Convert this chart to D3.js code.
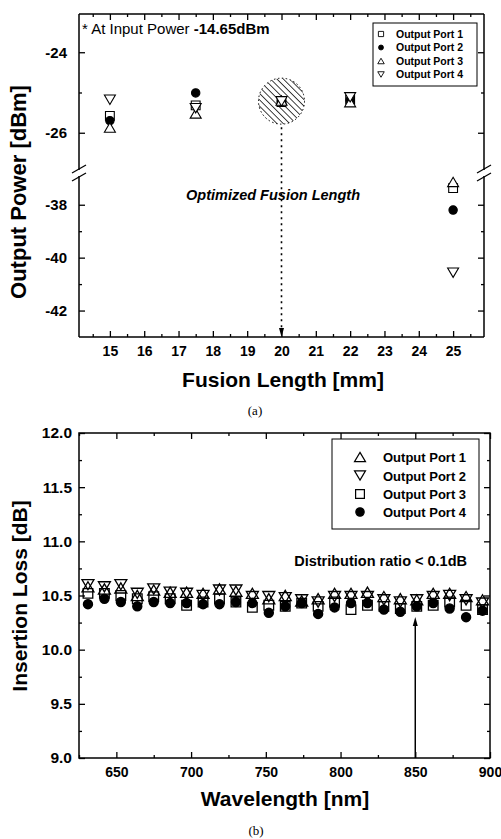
<!DOCTYPE html>
<html>
<head>
<meta charset="utf-8">
<script src="https://cdn.jsdelivr.net/npm/d3@7"></script>
<style>
  body { margin: 0; background: #fff; }
  text { font-family: "Liberation Sans", Arial, Helvetica, sans-serif; }
</style>
</head>
<body>
<div id="chart"></div>
<script>
// ---- (a) output power vs fusion length ----
var fusionLength = [15, 17.5, 20, 22, 25];
var powerPort1 = [-25.58, -25.32, -25.24, -25.18, -37.37];
var powerPort2 = [-25.70, -25.01, -25.22, -25.19, -38.20];
var powerPort3 = [-25.87, -25.52, -25.20, -25.24, -37.14];
var powerPort4 = [-25.18, -25.39, -25.22, -25.12, -40.57];
var fusionTicks = [15, 16, 17, 18, 19, 20, 21, 22, 23, 24, 25];
var fusionMinor = [14.5, 15.5, 16.5, 17.5, 18.5, 19.5, 20.5, 21.5, 22.5, 23.5, 24.5, 25.5];
var powerTicksUp = [-24, -26];
var powerMinorUp = [-25];
var powerTicksLo = [-38, -40, -42];
var powerMinorLo = [-39, -41];
var optimumLength = 20;

// ---- (b) insertion loss vs wavelength ----
var wavelength = [631, 642, 653, 664, 675, 686, 697, 708, 719, 730, 741, 752, 763,
                  774, 785, 796, 807, 818, 829, 840, 851, 862, 873, 884, 895];
var lossPort1 = [10.58, 10.56, 10.57, 10.50, 10.55, 10.53, 10.53, 10.52, 10.56, 10.54, 10.52, 10.47, 10.50,
                 10.45, 10.47, 10.52, 10.52, 10.53, 10.49, 10.47, 10.46, 10.52, 10.52, 10.49, 10.46];
var lossPort2 = [10.60, 10.58, 10.60, 10.52, 10.56, 10.53, 10.52, 10.50, 10.55, 10.55, 10.49, 10.49, 10.48,
                 10.46, 10.44, 10.49, 10.49, 10.49, 10.46, 10.44, 10.46, 10.49, 10.50, 10.46, 10.43];
var lossPort3 = [10.52, 10.52, 10.50, 10.47, 10.49, 10.47, 10.41, 10.44, 10.47, 10.44, 10.39, 10.41, 10.40,
                 10.43, 10.40, 10.44, 10.37, 10.41, 10.40, 10.38, 10.40, 10.41, 10.44, 10.41, 10.37];
var lossPort4 = [10.42, 10.47, 10.44, 10.40, 10.44, 10.43, 10.43, 10.42, 10.42, 10.44, 10.43, 10.34, 10.40,
                 10.43, 10.33, 10.39, 10.43, 10.43, 10.37, 10.35, 10.40, 10.43, 10.38, 10.30, 10.36];
var waveTicks = [650, 700, 750, 800, 850, 900];
var waveMinor = [625, 675, 725, 775, 825, 875];
var lossTicks = [9.0, 9.5, 10.0, 10.5, 11.0, 11.5, 12.0];
var lossMinor = [9.25, 9.75, 10.25, 10.75, 11.25, 11.75];
var markedWavelength = 850;

var svg = d3.select("#chart").append("svg")
    .attr("width", 501)
    .attr("height", 839);

// marker path builders (hollow triangles / square, filled circle)
function marker(type, s) {
  var h = s * 0.85;
  if (type === "up") return "M0," + (-h / 2) + "L" + (s / 2) + "," + (h / 2) + "L" + (-s / 2) + "," + (h / 2) + "Z";
  if (type === "down") return "M0," + (h / 2) + "L" + (s / 2) + "," + (-h / 2) + "L" + (-s / 2) + "," + (-h / 2) + "Z";
  if (type === "square") { var q = s * 0.4; return "M" + (-q) + "," + (-q) + "H" + q + "V" + q + "H" + (-q) + "Z"; }
  var r = s * 0.38;
  return "M" + r + ",0A" + r + "," + r + " 0 1,1 " + (-r) + ",0A" + r + "," + r + " 0 1,1 " + r + ",0Z";
}

function drawMarker(g, type, cx, cy, s, sw, hollowFill) {
  g.append("path")
    .attr("d", marker(type, s))
    .attr("transform", "translate(" + cx + "," + cy + ")")
    .attr("fill", type === "circle" ? "#000" : (hollowFill || "none"))
    .attr("stroke", "#000")
    .attr("stroke-width", sw);
}

function styleAxis(g, fs) {
  g.select(".domain").remove();
  g.selectAll("line").attr("stroke", "#000").attr("stroke-width", 1.3);
  g.selectAll("text").attr("fill", "#000").attr("font-size", fs).attr("font-weight", "bold")
    .attr("font-family", "'Liberation Sans', Arial, sans-serif");
}

var noFmt = function() { return ""; };
var plain = function(d) { return String(d); };

// =================== chart (a) ===================
var x1 = d3.scaleLinear().domain([14.1, 25.9]).range([79, 484]);
var yUp = d3.scaleLinear().domain([-27, -23.05]).range([173, 14]);
var yLo = d3.scaleLinear().domain([-43, -36.8]).range([337, 173]);
function y1(v) { return v > -30 ? yUp(v) : yLo(v); }

var ga = svg.append("g");

// x axes
ga.append("g").attr("transform", "translate(0,337)")
  .call(d3.axisBottom(x1).tickValues(fusionTicks).tickFormat(plain).tickSize(-6).tickPadding(9))
  .call(styleAxis, 14);
ga.append("g").attr("transform", "translate(0,337)")
  .call(d3.axisBottom(x1).tickValues(fusionMinor).tickFormat(noFmt).tickSize(-3)).call(styleAxis, 14);
ga.append("g").attr("transform", "translate(0,14)")
  .call(d3.axisTop(x1).tickValues(fusionTicks).tickFormat(noFmt).tickSize(-6)).call(styleAxis, 14);
ga.append("g").attr("transform", "translate(0,14)")
  .call(d3.axisTop(x1).tickValues(fusionMinor).tickFormat(noFmt).tickSize(-3)).call(styleAxis, 14);

// y axes (broken)
[[yUp, powerTicksUp, powerMinorUp], [yLo, powerTicksLo, powerMinorLo]].forEach(function(p) {
  ga.append("g").attr("transform", "translate(79,0)")
    .call(d3.axisLeft(p[0]).tickValues(p[1]).tickFormat(plain).tickSize(-6).tickPadding(12)).call(styleAxis, 15);
  ga.append("g").attr("transform", "translate(79,0)")
    .call(d3.axisLeft(p[0]).tickValues(p[2]).tickFormat(noFmt).tickSize(-3)).call(styleAxis, 15);
  ga.append("g").attr("transform", "translate(484,0)")
    .call(d3.axisRight(p[0]).tickValues(p[1]).tickFormat(noFmt).tickSize(-6)).call(styleAxis, 15);
  ga.append("g").attr("transform", "translate(484,0)")
    .call(d3.axisRight(p[0]).tickValues(p[2]).tickFormat(noFmt).tickSize(-3)).call(styleAxis, 15);
});

// frame with break
var frame = ga.append("g").attr("stroke", "#000").attr("stroke-width", 1.5).attr("fill", "none");
frame.append("line").attr("x1", 79).attr("x2", 484).attr("y1", 14).attr("y2", 14);
frame.append("line").attr("x1", 79).attr("x2", 484).attr("y1", 337).attr("y2", 337);
[79, 484].forEach(function(xx) {
  frame.append("line").attr("x1", xx).attr("x2", xx).attr("y1", 14).attr("y2", 170);
  frame.append("line").attr("x1", xx).attr("x2", xx).attr("y1", 176).attr("y2", 337);
  frame.append("line").attr("x1", xx - 7).attr("x2", xx + 7).attr("y1", 173).attr("y2", 165).attr("stroke-width", 1.2);
  frame.append("line").attr("x1", xx - 7).attr("x2", xx + 7).attr("y1", 181).attr("y2", 173).attr("stroke-width", 1.2);
});

// hatched highlight around optimum
var defs = svg.append("defs");
defs.append("pattern").attr("id", "hatch").attr("patternUnits", "userSpaceOnUse")
  .attr("width", 4.5).attr("height", 4.5).attr("patternTransform", "rotate(-45)")
  .append("line").attr("x1", 0).attr("y1", 0).attr("x2", 0).attr("y2", 4.5)
  .attr("stroke", "#000").attr("stroke-width", 1.5);

var cxOpt = x1(optimumLength), cyOpt = y1(powerPort1[2]) - 1;
ga.append("circle").attr("cx", cxOpt).attr("cy", cyOpt).attr("r", 23)
  .attr("fill", "url(#hatch)").attr("stroke", "#000").attr("stroke-width", 1)
  .attr("stroke-dasharray", "1.5,2.5");

// dotted arrow down to axis
ga.append("line").attr("x1", cxOpt).attr("x2", cxOpt).attr("y1", cyOpt + 26).attr("y2", 330)
  .attr("stroke", "#000").attr("stroke-width", 1.6).attr("stroke-dasharray", "2,4");
ga.append("path")
  .attr("d", "M" + (cxOpt - 2.5) + ",328L" + (cxOpt + 2.5) + ",328L" + cxOpt + ",337Z")
  .attr("fill", "#000");

// markers (a): open symbols are white-filled, drawn in port order
var seriesA = [[powerPort1, "square"], [powerPort2, "circle"], [powerPort3, "up"], [powerPort4, "down"]];
var ptsA = ga.append("g");
seriesA.forEach(function(s) {
  s[0].forEach(function(v, i) {
    if (v === null) return;
    drawMarker(ptsA, s[1], x1(fusionLength[i]), y1(v), 11, 1.1, "#fff");
  });
});

// annotations (a)
var note = ga.append("text").attr("x", 82).attr("y", 34).attr("font-size", 15).attr("fill", "#000");
note.append("tspan").text("* At Input Power ");
note.append("tspan").attr("font-weight", "bold").text("-14.65dBm");

ga.append("text").attr("x", 273).attr("y", 200).attr("text-anchor", "middle")
  .attr("font-size", 14.5).attr("font-weight", "bold").attr("font-style", "italic")
  .text("Optimized Fusion Length");

// legend (a)
var legA = ga.append("g");
legA.append("rect").attr("x", 373).attr("y", 23).attr("width", 104).attr("height", 63)
  .attr("fill", "#fff").attr("stroke", "#000").attr("stroke-width", 1);
var legNamesA = ["Output Port 1", "Output Port 2", "Output Port 3", "Output Port 4"];
var legRowsA = [34, 47.5, 61, 74.5];
seriesA.forEach(function(s, i) {
  drawMarker(legA, s[1], 381, legRowsA[i], 6.5, 0.9);
  legA.append("text").attr("x", 396).attr("y", legRowsA[i] + 3.8)
    .attr("font-size", 10.5).attr("font-weight", "bold").text(legNamesA[i]);
});

// titles (a)
ga.append("text").attr("transform", "translate(26,192) rotate(-90)").attr("text-anchor", "middle")
  .attr("font-size", 22).attr("font-weight", "bold").text("Output Power [dBm]");
ga.append("text").attr("x", 283).attr("y", 387).attr("text-anchor", "middle")
  .attr("font-size", 21).attr("font-weight", "bold").text("Fusion Length [mm]");
svg.append("text").attr("x", 255).attr("y", 415).attr("text-anchor", "middle")
  .attr("font-size", 13).style("font-family", "'Liberation Serif', 'Times New Roman', serif").text("(a)");

// =================== chart (b) ===================
var x2 = d3.scaleLinear().domain([625, 900]).range([79, 490]);
var y2 = d3.scaleLinear().domain([9, 12]).range([758, 433]);
var gb = svg.append("g");

gb.append("g").attr("transform", "translate(0,758)")
  .call(d3.axisBottom(x2).tickValues(waveTicks).tickFormat(plain).tickSize(-6).tickPadding(9)).call(styleAxis, 14);
gb.append("g").attr("transform", "translate(0,758)")
  .call(d3.axisBottom(x2).tickValues(waveMinor).tickFormat(noFmt).tickSize(-3)).call(styleAxis, 14);
gb.append("g").attr("transform", "translate(0,433)")
  .call(d3.axisTop(x2).tickValues(waveTicks).tickFormat(noFmt).tickSize(-6)).call(styleAxis, 14);
gb.append("g").attr("transform", "translate(0,433)")
  .call(d3.axisTop(x2).tickValues(waveMinor).tickFormat(noFmt).tickSize(-3)).call(styleAxis, 14);
gb.append("g").attr("transform", "translate(79,0)")
  .call(d3.axisLeft(y2).tickValues(lossTicks).tickFormat(d3.format(".1f")).tickSize(-6).tickPadding(7)).call(styleAxis, 15.5);
gb.append("g").attr("transform", "translate(79,0)")
  .call(d3.axisLeft(y2).tickValues(lossMinor).tickFormat(noFmt).tickSize(-3)).call(styleAxis, 15);
gb.append("g").attr("transform", "translate(490,0)")
  .call(d3.axisRight(y2).tickValues(lossTicks).tickFormat(noFmt).tickSize(-6)).call(styleAxis, 15);
gb.append("g").attr("transform", "translate(490,0)")
  .call(d3.axisRight(y2).tickValues(lossMinor).tickFormat(noFmt).tickSize(-3)).call(styleAxis, 15);

gb.append("rect").attr("x", 79).attr("y", 433).attr("width", 411).attr("height", 325)
  .attr("fill", "none").attr("stroke", "#000").attr("stroke-width", 1.5);

// arrow at 850 nm
gb.append("line").attr("x1", x2(markedWavelength)).attr("x2", x2(markedWavelength))
  .attr("y1", 758).attr("y2", 624).attr("stroke", "#000").attr("stroke-width", 1.5);
gb.append("path")
  .attr("d", "M" + (x2(markedWavelength) - 2.5) + ",626L" + (x2(markedWavelength) + 2.5) + ",626L" + x2(markedWavelength) + ",617Z")
  .attr("fill", "#000");

// markers (b)
var seriesB = [[lossPort1, "up"], [lossPort2, "down"], [lossPort3, "square"], [lossPort4, "circle"]];
var ptsB = gb.append("g");
seriesB.forEach(function(s) {
  s[0].forEach(function(v, i) {
    drawMarker(ptsB, s[1], x2(wavelength[i]), y2(v), 12, 1.3);
  });
});

gb.append("text").attr("x", 467).attr("y", 566).attr("text-anchor", "end")
  .attr("font-size", 14.5).attr("font-weight", "bold").text("Distribution ratio < 0.1dB");

// legend (b)
var legB = gb.append("g");
legB.append("rect").attr("x", 332).attr("y", 439).attr("width", 147).attr("height", 90)
  .attr("fill", "#fff").attr("stroke", "#000").attr("stroke-width", 1);
var legNamesB = ["Output Port 1", "Output Port 2", "Output Port 3", "Output Port 4"];
var legRowsB = [457, 475.5, 494, 512];
seriesB.forEach(function(s, i) {
  drawMarker(legB, s[1], 360, legRowsB[i], 11, 1.2);
  legB.append("text").attr("x", 383).attr("y", legRowsB[i] + 5)
    .attr("font-size", 13).attr("font-weight", "bold").text(legNamesB[i]);
});

// titles (b)
gb.append("text").attr("transform", "translate(27,596) rotate(-90)").attr("text-anchor", "middle")
  .attr("font-size", 21).attr("font-weight", "bold").text("Insertion Loss [dB]");
gb.append("text").attr("x", 285).attr("y", 806).attr("text-anchor", "middle")
  .attr("font-size", 21).attr("font-weight", "bold").text("Wavelength [nm]");
svg.append("text").attr("x", 256).attr("y", 835).attr("text-anchor", "middle")
  .attr("font-size", 13).style("font-family", "'Liberation Serif', 'Times New Roman', serif").text("(b)");
</script>
</body>
</html>
